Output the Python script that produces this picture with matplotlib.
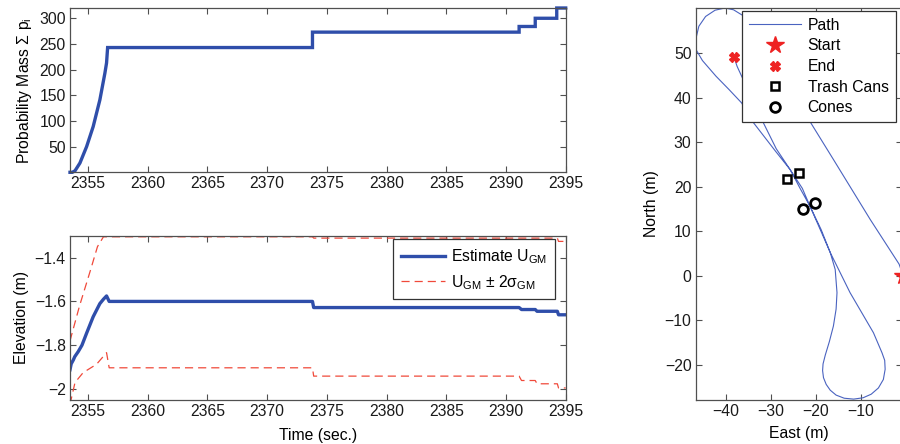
import matplotlib
matplotlib.use("Agg")
import matplotlib.pyplot as plt

plt.rcParams['font.family'] = ['Liberation Sans', 'DejaVu Sans']
plt.rcParams['mathtext.fontset'] = 'custom'
plt.rcParams['mathtext.rm'] = 'Liberation Sans'
plt.rcParams['mathtext.it'] = 'Liberation Sans:italic'
plt.rcParams['mathtext.bf'] = 'Liberation Sans:bold'
FS = 11.3
plt.rcParams['font.size'] = FS

# ---------------- data ----------------
# Top: probability mass
t_mass = [2353.5, 2353.7, 2353.92, 2354.33, 2354.89, 2355.44, 2356.0, 2356.42, 2356.56,
          2356.65, 2373.8, 2373.8, 2391.1, 2391.1, 2392.45, 2392.45, 2394.25, 2394.25, 2395.0]
mass = [0, 0, 3, 18, 50, 89, 141, 193, 213,
        243, 243, 273, 273, 284, 284, 300, 300, 320, 320]

# Bottom: elevation estimate and 2-sigma bounds
t_est = [2353.5, 2353.6, 2353.78, 2353.9, 2354.19, 2354.5, 2354.89, 2355.44, 2356.0, 2356.3,
         2356.56, 2356.78, 2373.8, 2373.9, 2391.1, 2391.3, 2392.45, 2392.6, 2394.3, 2394.4, 2395.0]
est = [-1.912, -1.885, -1.867, -1.852, -1.829, -1.80, -1.745, -1.67, -1.61, -1.59,
       -1.575, -1.60, -1.60, -1.628, -1.628, -1.637, -1.637, -1.645, -1.645, -1.661, -1.661]

t_up = [2353.5, 2354.3, 2355.2, 2355.8, 2356.3, 2373.8, 2373.9, 2394.3, 2394.4, 2395.0]
up = [-1.78, -1.62, -1.46, -1.35, -1.305, -1.305, -1.311, -1.311, -1.326, -1.326]

t_lo = [2353.5, 2353.92, 2354.6, 2355.72, 2356.56, 2356.78, 2373.8, 2373.9, 2391.1, 2391.3,
        2392.45, 2392.6, 2394.3, 2394.4, 2395.0]
lo = [-2.07, -1.97, -1.925, -1.887, -1.834, -1.903, -1.903, -1.941, -1.941, -1.961,
      -1.961, -1.976, -1.976, -1.995, -1.995]

# Right: path (East, North)
path_e = [-0.6, -1.5, -7.9, -16.1, -21.3, -26.5, -31.0, -33.6, -36.2, -38.3, -40.2, -42.4,
          -44.5, -46.0, -46.7, -46.6, -45.2, -42.2, -39.3, -36.5, -33.9, -29.0, -25.7, -23.0,
          -21.3, -18.8, -16.8, -15.7, -15.3, -15.5, -16.1, -17.0, -17.9, -18.4, -18.5, -18.3,
          -17.7, -16.8, -15.5, -13.7, -11.6, -9.5, -7.7, -6.1, -5.0, -4.6, -4.7, -5.3, -7.2,
          -9.8, -12.4, -14.6, -16.8, -19.0, -21.3, -23.5, -25.7, -28.8, -31.7, -34.0, -36.5,
          -37.5, -38.2]
path_n = [0.0, 2.6, 12.6, 26.1, 34.6, 43.2, 50.5, 55.0, 58.4, 59.7, 60.1, 59.6,
          58.2, 56.0, 53.0, 50.7, 48.3, 44.8, 41.8, 38.8, 34.4, 28.0, 23.8, 19.6,
          15.6, 10.3, 5.2, 1.4, -3.8, -7.5, -11.3, -14.8, -17.8, -19.8, -21.3, -22.9,
          -24.4, -25.7, -26.8, -27.5, -27.7, -27.4, -26.6, -25.2, -23.3, -21.0, -19.0, -17.3,
          -12.8, -8.3, -3.8, 0.7, 5.2, 10.3, 15.6, 19.6, 23.8, 28.5, 34.4, 39.5, 44.8,
          47.0, 49.1]
start_e, start_n = [-0.6], [0.0]
end_e, end_n = [-38.2], [49.1]
trash_e = [-26.4, -23.7]
trash_n = [21.6, 23.1]
cone_e = [-22.9, -20.2]
cone_n = [15.0, 16.4]

# ---------------- style ----------------
W, H = 900, 444
BLUE = '#2f4eaa'
PATHBLUE = '#4a63c0'
RED = '#f0493a'
MRED = '#ee2222'
SPINE = '#505050'


def style(ax):
    for s in ax.spines.values():
        s.set_color(SPINE)
        s.set_linewidth(0.9)
    ax.tick_params(direction='in', length=4, width=0.8, color=SPINE,
                   top=True, right=True, labelsize=FS, labelcolor='#1a1a1a', pad=3)


def px_rect(x0, y0, x1, y1):
    return [x0 / W, 1 - y1 / H, (x1 - x0) / W, (y1 - y0) / H]


fig = plt.figure(figsize=(9, 4.44), dpi=100)

# Top left
ax1 = fig.add_axes(px_rect(70, 8, 565.7, 172.3))
ax1.plot(t_mass, mass, color=BLUE, lw=2.4, clip_on=False, solid_joinstyle='miter')
ax1.set_xlim(2353.5, 2395)
ax1.set_ylim(0, 320)
ax1.set_xticks([2355, 2360, 2365, 2370, 2375, 2380, 2385, 2390, 2395])
ax1.set_yticks([50, 100, 150, 200, 250, 300])
ax1.set_ylabel(r'Probability Mass $\Sigma$ p$_{\rm i}$', fontsize=FS, labelpad=4)
style(ax1)

# Bottom left
ax2 = fig.add_axes(px_rect(70, 235.7, 565.7, 400))
ax2.plot(t_up, up, color=RED, lw=0.9, dashes=(6.5, 4))
ax2.plot(t_lo, lo, color=RED, lw=0.9, dashes=(6.5, 4))
l_est, = ax2.plot(t_est, est, color=BLUE, lw=2.4, label=r'Estimate U$_{\rm GM}$')
l_bnd, = ax2.plot([], [], color=RED, lw=0.9, dashes=(6.5, 4),
                  label='U$_{\\rm GM}$ \u00b1 2\u03c3$_{\\rm GM}$')
ax2.set_xlim(2353.5, 2395)
ax2.set_ylim(-2.05, -1.30)
ax2.set_xticks([2355, 2360, 2365, 2370, 2375, 2380, 2385, 2390, 2395])
ax2.set_yticks([-2.0, -1.8, -1.6, -1.4])
ax2.set_yticklabels(['\u22122', '\u22121.8', '\u22121.6', '\u22121.4'])
ax2.set_ylabel('Elevation (m)', fontsize=FS, labelpad=4)
ax2.set_xlabel('Time (sec.)', fontsize=FS, labelpad=6)
style(ax2)
leg2 = ax2.legend(handles=[l_est, l_bnd], loc='upper right',
                  bbox_to_anchor=(555 / W, 1 - 239.3 / H), bbox_transform=fig.transFigure,
                  borderaxespad=0, fancybox=False, framealpha=1, edgecolor='#333333',
                  handlelength=2.8, handletextpad=0.4, borderpad=0.5, labelspacing=0.45,
                  fontsize=FS)
leg2.get_frame().set_linewidth(0.9)

# Right: path
ax3 = fig.add_axes(px_rect(695.7, 8, 901.8, 400))
lp, = ax3.plot(path_e, path_n, color=PATHBLUE, lw=0.8, label='Path')
ls, = ax3.plot(start_e, start_n, ls='none', marker='*', ms=13, color=MRED, mec=MRED,
               label='Start', clip_on=False)
le, = ax3.plot(end_e, end_n, ls='none', marker='X', ms=6.5, color=MRED, mec=MRED,
               label='End')
lt, = ax3.plot(trash_e, trash_n, ls='none', marker='s', ms=6, mfc='none', mec='black',
               mew=1.8, label='Trash Cans')
lc, = ax3.plot(cone_e, cone_n, ls='none', marker='o', ms=7, mfc='none', mec='black',
               mew=2.0, label='Cones')
ax3.set_xlim(-46.7, -0.9)
ax3.set_ylim(-27.9, 60.1)
ax3.set_xticks([-40, -30, -20, -10])
ax3.set_xticklabels(['\u221240', '\u221230', '\u221220', '\u221210'])
ax3.set_yticks([-20, -10, 0, 10, 20, 30, 40, 50])
ax3.set_yticklabels(['\u221220', '\u221210', '0', '10', '20', '30', '40', '50'])
ax3.set_xlabel('East (m)', fontsize=FS, labelpad=5)
ax3.set_ylabel('North (m)', fontsize=FS, labelpad=4)
style(ax3)
leg3 = ax3.legend(handles=[lp, ls, le, lt, lc], loc='upper left',
                  bbox_to_anchor=(741.7 / W, 1 - 10.7 / H), bbox_transform=fig.transFigure,
                  borderaxespad=0, fancybox=False, framealpha=1, edgecolor='#333333',
                  handlelength=3.3, handletextpad=0.45, borderpad=0.45, labelspacing=0.36,
                  numpoints=1, fontsize=FS)
leg3.get_frame().set_linewidth(0.9)

fig.savefig('out.png', dpi=100)
